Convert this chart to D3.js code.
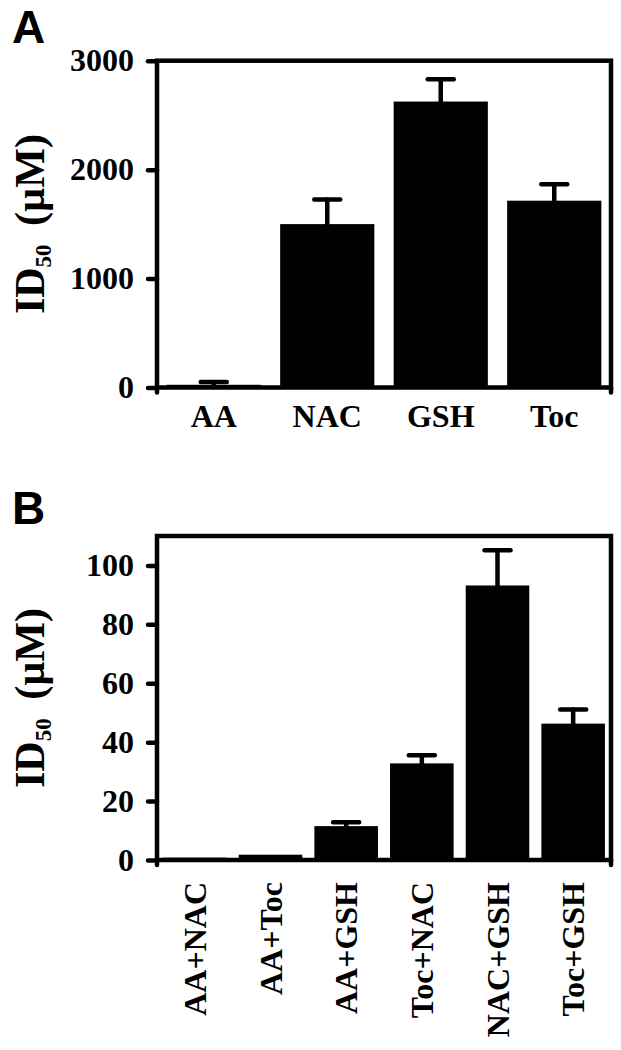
<!DOCTYPE html>
<html>
<head>
<meta charset="utf-8">
<script src="https://cdn.jsdelivr.net/npm/d3@7"></script>
<style>
  body { margin: 0; background: #fff; }
  svg { display: block; }
</style>
</head>
<body>
<div id="chart"></div>
<script>
// Panel A: single antioxidants
const catsA = ["AA", "NAC", "GSH", "Toc"];
const valsA = [25, 1500, 2625, 1715];
const errsA = [25, 225, 205, 150];
const ticksA = [0, 1000, 2000, 3000];

// Panel B: combinations
const catsB = ["AA+NAC", "AA+Toc", "AA+GSH", "Toc+NAC", "NAC+GSH", "Toc+GSH"];
const valsB = [0.8, 1.8, 11.5, 32.8, 93.2, 46.3];
const errsB = [0, 0, 1.3, 2.8, 12, 4.8];
const ticksB = [0, 20, 40, 60, 80, 100];

const width = 621, height = 1050;
const serif = "'Liberation Serif', 'Times New Roman', serif";
const sans = "'Liberation Sans', Arial, sans-serif";
const lw = 4.5;

const svg = d3.select("#chart").append("svg")
    .attr("width", width)
    .attr("height", height);

function drawPanel(opts) {
  const x = d3.scaleBand()
      .domain(opts.cats)
      .range([157, 611])
      .paddingInner(opts.pad)
      .paddingOuter(opts.pad / 2);
  const y = d3.scaleLinear()
      .domain(opts.domain)
      .range([opts.bottom, opts.top]);

  const g = svg.append("g");
  const data = opts.cats.map((c, i) => ({cat: c, v: opts.vals[i], e: opts.errs[i]}));

  // bars
  g.selectAll("rect.bar")
    .data(data)
    .join("rect")
      .attr("class", "bar")
      .attr("x", d => x(d.cat))
      .attr("width", x.bandwidth())
      .attr("y", d => y(d.v))
      .attr("height", d => y(0) - y(d.v))
      .attr("fill", "#000");

  // error bars (upper only)
  const eb = g.selectAll("g.err")
    .data(data.filter(d => d.e > 0))
    .join("g")
      .attr("class", "err")
      .attr("stroke", "#000")
      .attr("stroke-width", lw)
      .attr("stroke-linecap", "round");
  eb.append("line")
      .attr("x1", d => x(d.cat) + x.bandwidth() / 2)
      .attr("x2", d => x(d.cat) + x.bandwidth() / 2)
      .attr("y1", d => y(d.v))
      .attr("y2", d => y(d.v + d.e));
  eb.append("line")
      .attr("x1", d => x(d.cat) + x.bandwidth() / 2 - 13)
      .attr("x2", d => x(d.cat) + x.bandwidth() / 2 + 13)
      .attr("y1", d => y(d.v + d.e))
      .attr("y2", d => y(d.v + d.e));

  // frame
  const [x0, x1] = x.range();
  g.append("rect")
      .attr("x", x0)
      .attr("y", y.range()[1])
      .attr("width", x1 - x0)
      .attr("height", y.range()[0] - y.range()[1])
      .attr("fill", "none")
      .attr("stroke", "#000")
      .attr("stroke-width", lw);
  // little end ticks under the x axis
  g.selectAll("line.endtick")
    .data([x0, x1])
    .join("line")
      .attr("class", "endtick")
      .attr("x1", d => d).attr("x2", d => d)
      .attr("y1", y(0)).attr("y2", y(0) + 5)
      .attr("stroke", "#000")
      .attr("stroke-width", lw)
      .attr("stroke-linecap", "round");

  // y axis
  const yAxis = g.append("g")
      .attr("transform", `translate(${x0},0)`)
      .call(d3.axisLeft(y).tickValues(opts.ticks).tickSize(9).tickPadding(14).tickFormat(d3.format("d")));
  yAxis.select(".domain").remove();
  yAxis.selectAll(".tick line")
      .attr("stroke-width", lw)
      .attr("stroke-linecap", "round");
  yAxis.selectAll(".tick text")
      .attr("fill", "#000")
      .style("font-family", serif)
      .style("font-weight", "bold")
      .style("font-size", "32px");

  // category labels
  if (opts.rotate) {
    g.selectAll("text.cat")
      .data(opts.cats)
      .join("text")
        .attr("class", "cat")
        .attr("transform", d => `translate(${x(d) + x.bandwidth() / 2},${y(0) + 22}) rotate(-90)`)
        .attr("text-anchor", "end")
        .attr("dy", "0.35em")
        .style("font-family", serif)
        .style("font-weight", "bold")
        .style("font-size", "32px")
        .text(d => d);
  } else {
    g.selectAll("text.cat")
      .data(opts.cats)
      .join("text")
        .attr("class", "cat")
        .attr("x", d => x(d) + x.bandwidth() / 2)
        .attr("y", y(0) + 39.5)
        .attr("text-anchor", "middle")
        .style("font-family", serif)
        .style("font-weight", "bold")
        .style("font-size", "32px")
        .text(d => d);
  }

  // y title: ID50 (µM)
  const cy = (y.range()[0] + y.range()[1]) / 2;
  const title = g.append("text")
      .attr("transform", `translate(44,${cy}) rotate(-90)`)
      .attr("text-anchor", "middle")
      .style("font-family", serif)
      .style("font-weight", "bold")
      .style("font-size", "42px");
  title.append("tspan").text("ID");
  title.append("tspan").attr("dy", 7).style("font-size", "23px").text("50");
  title.append("tspan").attr("dy", -7).attr("dx", 8).text(" (\u00b5M)");

  // panel letter
  svg.append("text")
      .attr("x", 12)
      .attr("y", opts.letterY)
      .style("font-family", sans)
      .style("font-weight", "bold")
      .style("font-size", "46px")
      .text(opts.letter);
}

drawPanel({
  cats: catsA, vals: valsA, errs: errsA, ticks: ticksA,
  domain: [0, 3000], top: 60.7, bottom: 387.5, pad: 0.17,
  rotate: false, letter: "A", letterY: 43
});

drawPanel({
  cats: catsB, vals: valsB, errs: errsB, ticks: ticksB,
  domain: [0, 110], top: 536, bottom: 860, pad: 0.16,
  rotate: true, letter: "B", letterY: 524
});
</script>
</body>
</html>
